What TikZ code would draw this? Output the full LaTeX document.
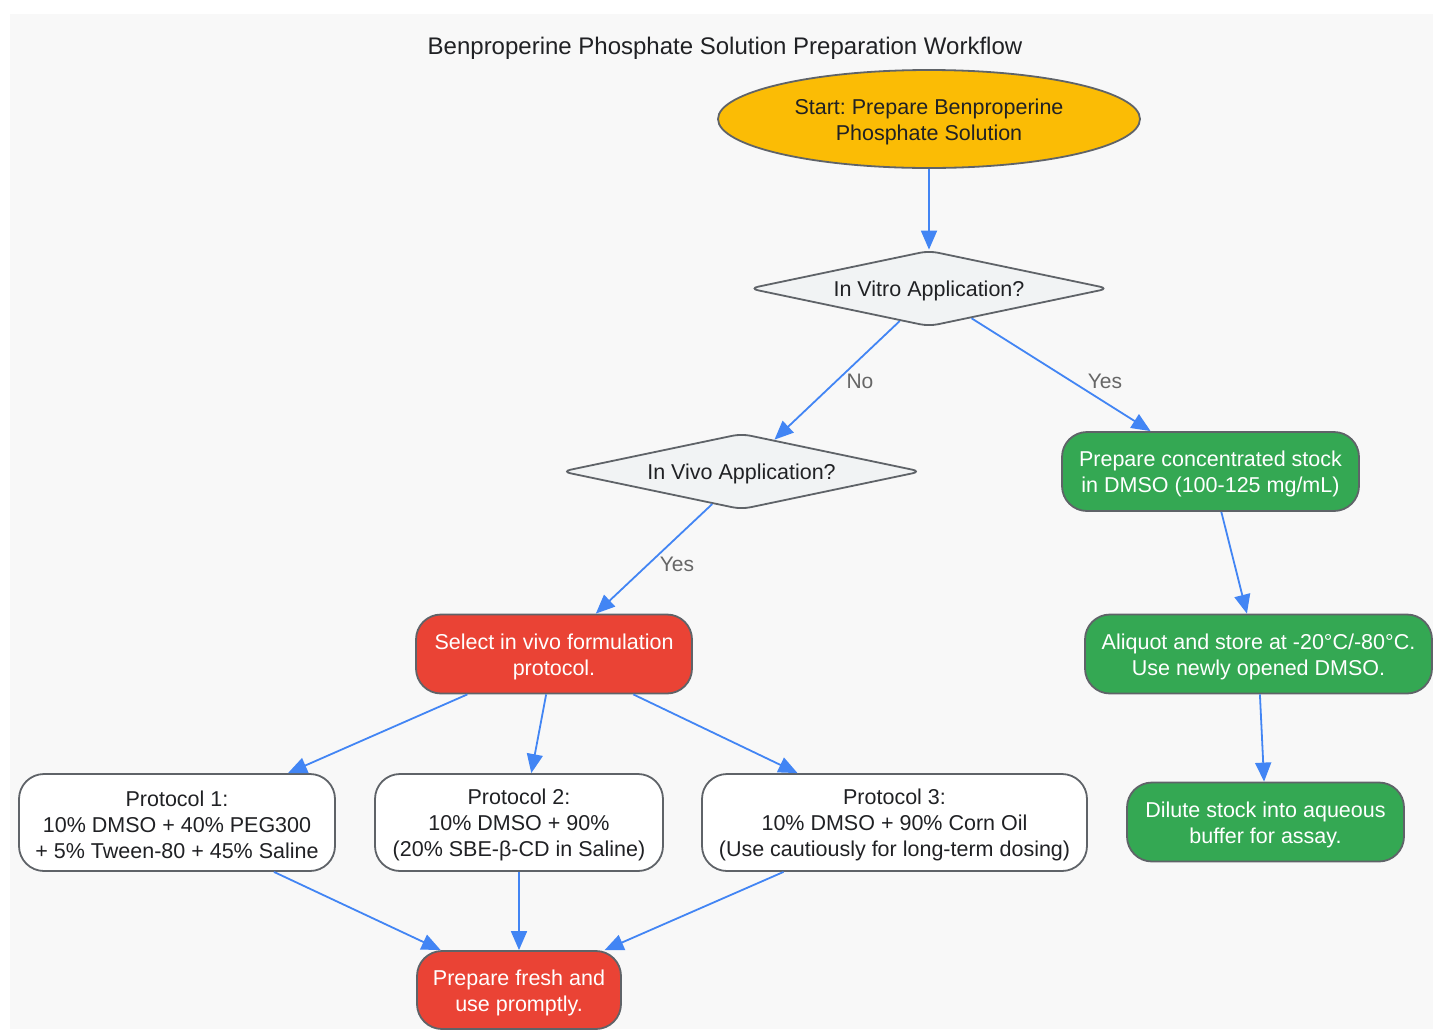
\documentclass[tikz,border=0pt]{standalone}
\usepackage{fontspec}
\setmainfont{Liberation Sans}
\frenchspacing
\usetikzlibrary{shapes.geometric,arrows.meta}
\definecolor{bg}{HTML}{F8F8F8}
\definecolor{edgeblue}{HTML}{4285F4}
\definecolor{bordergray}{HTML}{5F6368}
\definecolor{amber}{HTML}{FBBC05}
\definecolor{gbox}{HTML}{34A853}
\definecolor{rbox}{HTML}{EA4335}
\definecolor{dgray}{HTML}{F1F3F4}
\definecolor{txt}{HTML}{202124}
\definecolor{lbl}{HTML}{666666}
\newcommand{\lowr}{\rule{0pt}{21pt}}
\begin{document}
\begin{tikzpicture}[x=1pt,y=-1pt,
  every node/.style={font=\fontsize{21.5}{26}\selectfont, align=center, inner sep=0pt},
  base/.style={draw=bordergray, line width=1.8pt},
  startnode/.style={base, ellipse, fill=amber, text=txt, minimum width=422pt, minimum height=98pt},
  decide/.style={base, diamond, aspect=4.8, fill=dgray, text=txt, rounded corners=9pt, minimum width=360pt, minimum height=76pt},
  greenbox/.style={base, rectangle, rounded corners=25pt, fill=gbox, text=white, minimum height=79pt},
  redbox/.style={base, rectangle, rounded corners=25pt, fill=rbox, text=white, minimum height=79pt},
  protobox/.style={base, rectangle, rounded corners=25pt, fill=white, text=txt, minimum height=97pt},
  conn/.style={draw=edgeblue, line width=1.8pt, -{Triangle[length=19pt,width=16pt]}},
  edgelabel/.style={font=\fontsize{21}{25}\selectfont, text=lbl}
]
\useasboundingbox (0,0) rectangle (1433,1029);
\fill[bg] (10,14) rectangle (1433,1029);

\node[text=txt, font=\fontsize{24}{28}\selectfont] (title) at (725,48) {Benproperine Phosphate Solution Preparation Workflow};

\node[startnode] (start) at (929,119) {\lowr Start: Prepare Benproperine\\Phosphate Solution};
\node[decide] (d1) at (929,288.5) {\lowr In Vitro Application?};
\node[decide] (d2) at (741.5,471.5) {\lowr In Vivo Application?};
\node[greenbox, minimum width=297pt] (g1) at (1210.5,471.5) {\lowr Prepare concentrated stock\\in DMSO (100-125 mg/mL)};
\node[greenbox, minimum width=347pt] (g2) at (1258.5,654) {\lowr Aliquot and store at -20°C/-80°C.\\Use newly opened DMSO.};
\node[greenbox, minimum width=277pt] (g3) at (1265.5,822) {\lowr Dilute stock into aqueous\\buffer for assay.};
\node[redbox, minimum width=276pt] (r1) at (554,654) {\lowr Select in vivo formulation\\protocol.};
\node[protobox, minimum width=316pt] (p1) at (177,822.5) {\lowr Protocol 1:\\10\% DMSO + 40\% PEG300\\+ 5\% Tween-80 + 45\% Saline};
\node[protobox, minimum width=288pt] (p2) at (519,822.5) {\lowr Protocol 2:\\10\% DMSO + 90\%\\(20\% SBE-β-CD in Saline)};
\node[protobox, minimum width=385pt] (p3) at (894.5,822.5) {\lowr Protocol 3:\\10\% DMSO + 90\% Corn Oil\\(Use cautiously for long-term dosing)};
\node[redbox, minimum width=204pt, minimum height=78pt] (fin) at (519,990) {\lowr Prepare fresh and\\use promptly.};

\draw[conn] (start.south) -- (d1.north);
\draw[conn] (d1.228) -- (d2.44);
\draw[conn] (d1.325) -- (g1.146);
\draw[conn] (d2.228) -- (r1.44);
\draw[conn] (g1.285) -- (g2.106);
\draw[conn] (g2.272) -- (g3.92);
\draw[conn] (r1.205) -- (p1.24);
\draw[conn] (r1.259) -- (p2.76);
\draw[conn] (r1.333) -- (p3.153);
\draw[conn] (p1.333) -- (fin.153);
\draw[conn] (p2.south) -- (fin.north);
\draw[conn] (p3.204) -- (fin.25);

\node[edgelabel] (lno) at (860,381) {No};
\node[edgelabel] (lyes1) at (1105,381) {Yes};
\node[edgelabel] (lyes2) at (677,564) {Yes};
\end{tikzpicture}
\end{document}
